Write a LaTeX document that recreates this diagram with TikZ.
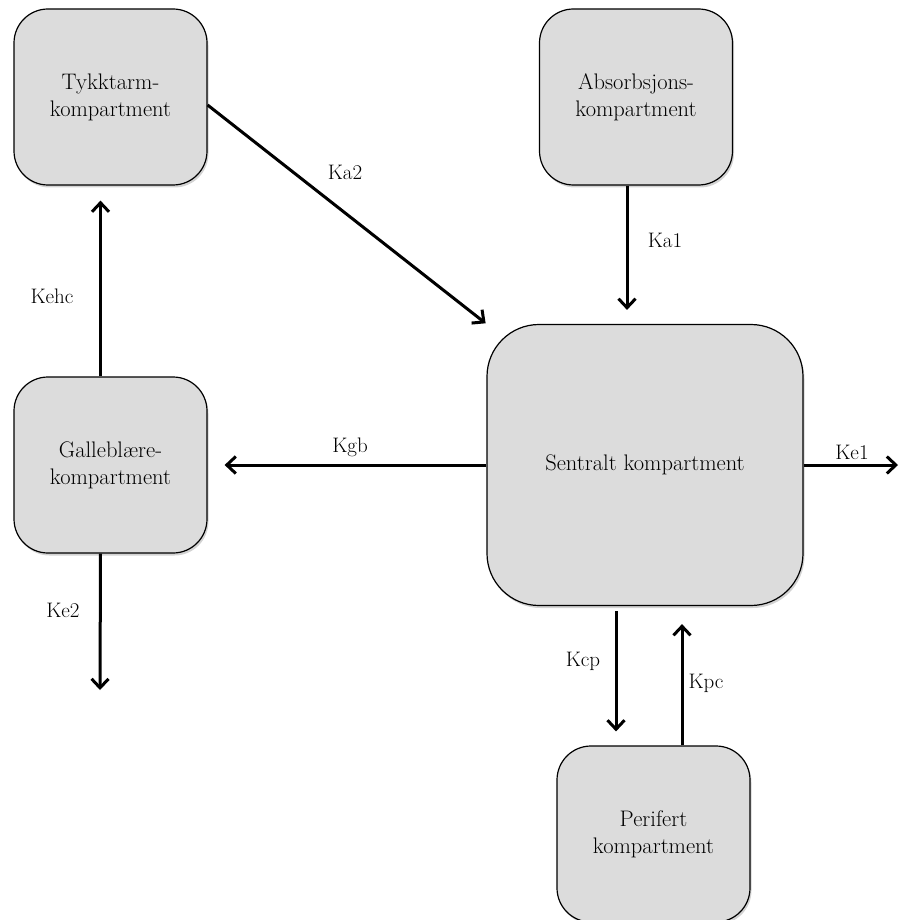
\documentclass[tikz,border=0pt]{standalone}
\usepackage{tikz}
\usetikzlibrary{arrows.meta,shadows}

\definecolor{boxgray}{RGB}{220,220,220}

\begin{document}
\begin{tikzpicture}[
  x=1pt, y=-1pt,
  >={Straight Barb[length=9pt,width=17pt]},
  comp/.style={draw=black, line width=1.2pt, fill=boxgray, rounded corners=34pt,
    minimum width=193pt, minimum height=176pt, align=center,
    font=\fontsize{22.5}{27}\selectfont,
    drop shadow={shadow xshift=1.5pt, shadow yshift=-2.5pt, opacity=0.35}},
  big comp/.style={comp, minimum width=316pt, minimum height=281pt, rounded corners=52pt},
  flow/.style={->, line width=3pt},
  rate/.style={font=\fontsize{21}{25}\selectfont}
]
  % pixel grid of the page, y going down
  \useasboundingbox (0,0) rectangle (898,920);

  \node[comp] (tyk) at (110.5,97) {Tykktarm-\\kompartment};
  \node[comp] (abs) at (636,97) {Absorbsjons-\\kompartment};
  \node[comp] (gal) at (110.5,465) {Galleblære-\\kompartment};
  \node[big comp] (sen) at (645,465) {Sentralt kompartment};
  \node[comp] (per) at (653.5,834) {Perifert\\kompartment};

  \coordinate (out1) at (898,465);
  \coordinate (out2) at (100,690);

  \draw[flow, shorten >=1pt] ([yshift=-8pt]tyk.east) -- (sen.north west);
  \draw[flow, shorten >=14pt] ([xshift=-9pt]abs.south) -- ([xshift=-9pt]abs.south |- sen.north);
  \draw[flow, shorten >=17pt] (sen.west) -- (gal.east);
  \draw[flow] (sen.east) -- (out1);
  \draw[flow, shorten >=15pt] ([xshift=-10pt]gal.north) -- ([xshift=-10pt]tyk.south);
  \draw[flow] ([xshift=-10pt]gal.south) -- (out2);
  \draw[flow, shorten <=5pt, shorten >=14pt] ([xshift=-29pt]sen.south) -- ([xshift=-29pt]sen.south |- per.north);
  \draw[flow, shorten >=18pt] ([xshift=28.5pt]per.north) -- ([xshift=28.5pt]per.north |- sen.south);

  \node[rate] (ka2) at (345,172) {Ka2};
  \node[rate] (ka1) at (665,240) {Ka1};
  \node[rate] (kgb) at (350,447) {Kgb};
  \node[rate] (ke1) at (852,452) {Ke1};
  \node[rate] (kehc) at (52,296) {Kehc};
  \node[rate] (ke2) at (63,610) {Ke2};
  \node[rate] (kcp) at (583,661) {Kcp};
  \node[rate] (kpc) at (706,683) {Kpc};
\end{tikzpicture}
\end{document}
